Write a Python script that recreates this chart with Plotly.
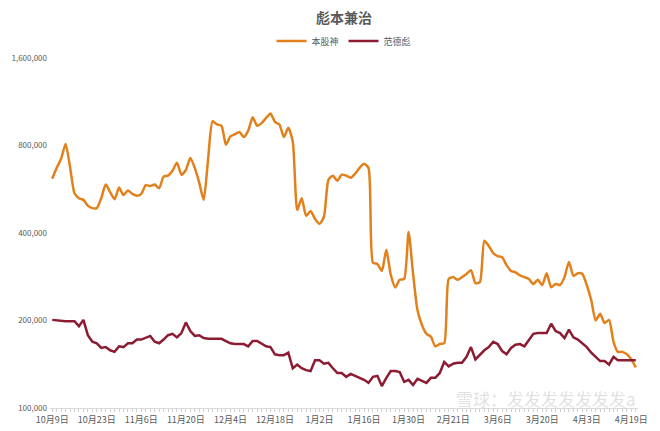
import pandas as pd
import plotly.graph_objects as go

# trading days (A-share calendar), 2023-10-09 .. 2024-04-22
holidays = ["2024-01-01", "2024-02-09", "2024-02-12", "2024-02-13", "2024-02-14",
            "2024-02-15", "2024-02-16", "2024-04-04", "2024-04-05"]
dates = [d.strftime("%Y-%m-%d") for d in
         pd.bdate_range("2023-10-09", "2024-04-22", freq="C", holidays=holidays)]

tick_labels = ["10月9日", "10月23日", "11月6日", "11月20日", "12月4日", "12月18日", "1月2日",
               "1月16日", "1月30日", "2月21日", "3月6日", "3月20日", "4月3日", "4月19日"]

# 本股神 (thousands)
ben_gushen = [615, 670, 720, 810, 675, 548, 527, 520, 497, 487,
              487, 527, 587, 553, 523, 573, 540, 560, 545, 537,
              545, 584, 580, 587, 570, 625, 630, 655, 698, 635,
              659, 725, 670, 596, 520, 720, 970, 945, 935, 805,
              860, 875, 890, 855, 900, 1000, 935, 955, 995, 1030,
              965, 945, 855, 920, 825, 480, 527, 458, 476, 447,
              430, 455, 609, 630, 605, 635, 630, 620, 640, 670,
              692, 670, 316, 313, 296, 350, 287, 260, 276, 278,
              403, 290, 217, 193, 180, 176, 163, 166, 167, 278,
              282, 276, 282, 289, 298, 269, 271, 376, 361, 341,
              333, 330, 310, 296, 293, 286, 282, 278, 267, 276,
              265, 291, 260, 267, 265, 282, 318, 285, 291, 289,
              265, 235, 200, 211, 196, 201, 169, 156, 156, 153,
              147, 138]

# 范德彪 (thousands)
fan_debiao = [201, 200, 199, 199, 199, 199, 191, 201, 178, 169,
              167, 161, 162, 158, 156, 163, 162, 167, 167, 172,
              172, 175, 177, 169, 167, 172, 178, 180, 175, 181,
              197, 184, 177, 178, 174, 173, 173, 172, 173, 170,
              167, 166, 166, 166, 163, 170, 170, 167, 163, 162,
              153, 152, 152, 155, 137, 141, 137, 135, 134, 146,
              146, 142, 143, 137, 132, 132, 128, 131, 129, 127,
              125, 122, 128, 129, 119, 127, 134, 134, 133, 123,
              125, 120, 126, 124, 122, 127, 127, 132, 144, 139,
              142, 143, 143, 150, 162, 147, 153, 158, 162, 169,
              166, 157, 153, 161, 165, 166, 163, 171, 180, 181,
              181, 181, 195, 184, 181, 174, 186, 175, 172, 167,
              162, 155, 150, 145, 145, 141, 150, 146, 146, 146,
              146, 146]

y_ticks = [100000, 200000, 400000, 800000, 1600000]

font = "Noto Sans CJK SC"
grey = "#595959"

fig = go.Figure()
fig.add_trace(go.Scatter(
    x=dates, y=[v * 1000 for v in ben_gushen], name="本股神", mode="lines",
    line=dict(color="#E2801C", width=2.5, shape="spline", smoothing=0.6),
))
fig.add_trace(go.Scatter(
    x=dates, y=[v * 1000 for v in fan_debiao], name="范德彪", mode="lines",
    line=dict(color="#8C1C32", width=2.5),
))

# tick mark at every category, label at every 10th
ticktext = [""] * len(dates)
for k, lab in enumerate(tick_labels):
    ticktext[k * 10] = lab

# page body has an 8px margin, so the figure is a bit smaller than the window
W, H = 652, 423
fig.update_layout(
    width=W, height=H,
    margin=dict(l=42, r=22, t=50, b=23),
    paper_bgcolor="white", plot_bgcolor="white",
    font=dict(family=font, size=9, color=grey),
    title=dict(text="<b>彪本兼治</b>", x=0.5, xref="paper", y=1 - 10 / H, yref="container",
               xanchor="center", yanchor="middle",
               font=dict(family=font, size=14, color=grey)),
    legend=dict(orientation="h", x=0.5, xanchor="center",
                y=1 - 33 / H, yref="container", yanchor="middle",
                font=dict(size=9, color=grey), itemwidth=30),
    showlegend=True,
)
fig.update_xaxes(
    type="category", range=[-0.5, len(dates) - 0.5], automargin=False,
    tickmode="array", tickvals=dates, ticktext=ticktext,
    ticks="outside", ticklen=3, tickcolor="#d0d0d0",
    showline=True, linecolor="#d9d9d9", linewidth=1,
    showgrid=False, tickangle=0,
)
fig.update_yaxes(
    type="log", range=[5, 6.2041], automargin=False,
    tickvals=y_ticks, tickformat=",", ticklabelstandoff=2,
    tickfont=dict(family=font, size=8, color=grey),
    showgrid=False, zeroline=False, showline=False,
)
fig.add_annotation(text="雪球：发发发发发发发a", xref="paper", yref="paper",
                   x=1.0, y=-0.015, xanchor="right", yanchor="bottom", showarrow=False,
                   font=dict(size=17, color="rgba(150,150,150,0.3)", family=font))

fig.write_html("out.html")
